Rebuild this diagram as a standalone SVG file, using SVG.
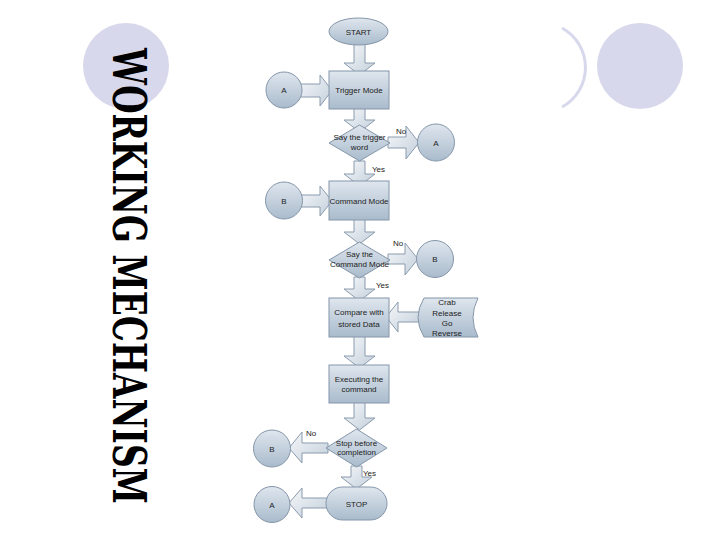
<svg xmlns="http://www.w3.org/2000/svg" width="720" height="540" viewBox="0 0 720 540">
<defs>
<linearGradient id="ng" x1="0" y1="0" x2="0" y2="1">
<stop offset="0" stop-color="#dfe6ee"/>
<stop offset="1" stop-color="#a9bbcc"/>
</linearGradient>
<linearGradient id="ag" x1="0" y1="0" x2="1" y2="1">
<stop offset="0" stop-color="#f6f8fa"/>
<stop offset="1" stop-color="#c3cfdb"/>
</linearGradient>
</defs>
<style>
.node{fill:url(#ng);stroke:#8496a9;stroke-width:1}
.arr{fill:url(#ag);stroke:#8a9bae;stroke-width:1;stroke-linejoin:miter}
.t{font-family:"Liberation Sans",Arial,sans-serif;font-size:8px;fill:#222;text-anchor:middle}
.lbl{font-family:"Liberation Sans",Arial,sans-serif;font-size:8px;fill:#222}
.deco{fill:#d8d8ec}
</style>
<rect width="720" height="540" fill="#ffffff"/>
<g id="decoration">
<circle class="deco" cx="126" cy="66" r="43"/>
<path d="M562,28 A45,45 0 0 1 562,107" fill="none" stroke="#d8d8ec" stroke-width="3"/>
<circle class="deco" cx="640" cy="66" r="43"/>
</g>
<g id="title">
<text transform="translate(113,48) rotate(90)" x="0" y="0" font-family="DejaVu Serif, serif" font-size="47" font-weight="bold" textLength="456" lengthAdjust="spacingAndGlyphs" fill="#000">WORKING MECHANISM</text>
</g>
<g id="connectors">
<polygon class="arr" points="354,44 365,44 365,63 375,63 359.5,75 344,63 354,63"/>
<polygon class="arr" points="354,108 365,108 365,120 375,120 359.5,132 344,120 354,120"/>
<polygon class="arr" points="354,161 365,161 365,174 375,174 359.5,186 344,174 354,174"/>
<polygon class="arr" points="354,219 365,219 365,232 375,232 359.5,244 344,232 354,232"/>
<polygon class="arr" points="354,277 365,277 365,289 375,289 359.5,301 344,289 354,289"/>
<polygon class="arr" points="354,336 365,336 365,356 375,356 359.5,368 344,356 354,356"/>
<polygon class="arr" points="354,402 365,402 365,418 375,418 359.5,430 344,418 354,418"/>
<polygon class="arr" points="351,466 362,466 362,477 372,477 356.5,489 341,477 351,477"/>
<polygon class="arr" points="300,84 320,84 320,75 332,90.5 320,106 320,97 300,97"/>
<polygon class="arr" points="300,195 320,195 320,186 332,201 320,216 320,207 300,207"/>
<polygon class="arr" points="388,137 406,137 406,126 419,142.5 406,159 406,148 388,148"/>
<polygon class="arr" points="388,254 405,254 405,243 418,259 405,275 405,264 388,264"/>
<polygon class="arr" points="420,312 398,312 398,302 386,317 398,332 398,322 420,322"/>
<polygon class="arr" points="328,443 302,443 302,432 289,448 302,463 302,453 328,453"/>
<polygon class="arr" points="328,498 302,498 302,488 289,503 302,518 302,508 328,508"/>
<text class="lbl" x="396" y="134">No</text>
<text class="lbl" x="372" y="172">Yes</text>
<text class="lbl" x="393" y="246">No</text>
<text class="lbl" x="376" y="288">Yes</text>
<text class="lbl" x="306" y="436">No</text>
<text class="lbl" x="363" y="476">Yes</text>
</g>
<g id="start"><ellipse class="node" cx="358.5" cy="31.5" rx="29.5" ry="13.5"/><text class="t" x="358.5" y="34.5">START</text></g>
<g id="trigger"><rect class="node" x="329" y="71" width="60" height="38"/><text class="t" x="359" y="93">Trigger Mode</text></g>
<g id="a1"><circle class="node" cx="284" cy="90" r="18"/><text class="t" x="284" y="93">A</text></g>
<g id="d1"><polygon class="node" points="359.5,125 390,143 359.5,161 329,143"/><text class="t" x="359.5" y="139.5">Say the trigger</text><text class="t" x="359.5" y="149.5">word</text></g>
<g id="a2"><circle class="node" cx="436" cy="142.5" r="18.5"/><text class="t" x="436" y="145.5">A</text></g>
<g id="command"><rect class="node" x="329" y="181" width="60" height="39"/><text class="t" x="359" y="203.5">Command Mode</text></g>
<g id="b1"><circle class="node" cx="284" cy="200.5" r="18.5"/><text class="t" x="284" y="203.5">B</text></g>
<g id="d2"><polygon class="node" points="359.5,242 390,260 359.5,278 329,260"/><text class="t" x="359.5" y="256.5">Say the</text><text class="t" x="359.5" y="266.5">Command Mode</text></g>
<g id="b2"><circle class="node" cx="435" cy="259" r="18.5"/><text class="t" x="435" y="262">B</text></g>
<g id="compare"><rect class="node" x="329" y="298" width="60" height="39"/><text class="t" x="359" y="314.5">Compare with</text><text class="t" x="359" y="326.5">stored Data</text></g>
<g id="data"><path class="node" d="M424,298 L478,298 Q468,317.5 478,337 L424,337 Q412,317.5 424,298 Z"/><text class="t" x="447" y="304.5">Crab</text><text class="t" x="447" y="315.5">Release</text><text class="t" x="447" y="326">Go</text><text class="t" x="447" y="336">Reverse</text></g>
<g id="executing"><rect class="node" x="329" y="365" width="60" height="38"/><text class="t" x="359" y="382">Executing the</text><text class="t" x="359" y="392">command</text></g>
<g id="d3"><polygon class="node" points="356.5,429 387,448 356.5,467 326,448"/><text class="t" x="356.5" y="445.5">Stop before</text><text class="t" x="356.5" y="455">completion</text></g>
<g id="b3"><circle class="node" cx="272" cy="448.5" r="18.5"/><text class="t" x="272" y="451.5">B</text></g>
<g id="stop"><rect class="node" x="326" y="487" width="61" height="33" rx="16.5"/><text class="t" x="356.5" y="506.5">STOP</text></g>
<g id="a3"><circle class="node" cx="272" cy="504.5" r="18"/><text class="t" x="272" y="507.5">A</text></g>
</svg>
